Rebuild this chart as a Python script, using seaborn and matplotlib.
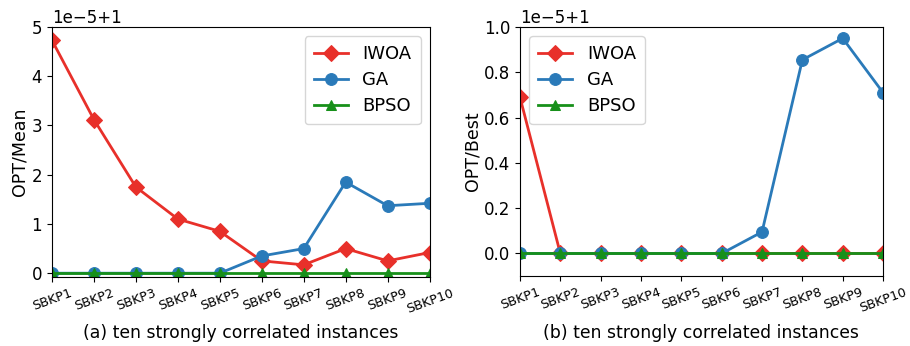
import numpy as np
import pandas as pd
import matplotlib
matplotlib.use("Agg")
import matplotlib.pyplot as plt
import seaborn as sns

instances = ["SBKP1", "SBKP2", "SBKP3", "SBKP4", "SBKP5",
             "SBKP6", "SBKP7", "SBKP8", "SBKP9", "SBKP10"]
algorithms = ["IWOA", "GA", "BPSO"]

# values in units of 1e-5 above 1
mean_iwoa = [4.73, 3.12, 1.75, 1.10, 0.85, 0.25, 0.17, 0.50, 0.25, 0.42]
mean_ga   = [0.0, 0.0, 0.0, 0.0, 0.0, 0.35, 0.50, 1.85, 1.37, 1.42]
mean_bpso = [0.0, 0.0, 0.0, 0.0, 0.0, 0.0, 0.0, 0.0, 0.0, 0.0]

best_iwoa = [0.69, 0.0, 0.0, 0.0, 0.0, 0.0, 0.0, 0.0, 0.0, 0.0]
best_ga   = [0.0, 0.0, 0.0, 0.0, 0.0, 0.0, 0.095, 0.855, 0.95, 0.71]
best_bpso = [0.0, 0.0, 0.0, 0.0, 0.0, 0.0, 0.0, 0.0, 0.0, 0.0]

colors = {"IWOA": "#e8302a", "GA": "#2a7ab9", "BPSO": "#17901a"}
markers = {"IWOA": "D", "GA": "o", "BPSO": "^"}
msizes = {"IWOA": 8, "GA": 8.5, "BPSO": 6.5}


def make_df(series):
    rows = []
    for alg, vals in zip(algorithms, series):
        for i, (inst, v) in enumerate(zip(instances, vals)):
            rows.append({"idx": i, "inst": inst, "alg": alg, "val": 1.0 + v * 1e-5})
    return pd.DataFrame(rows)


fig = plt.figure(figsize=(9.1, 3.46), dpi=100)
ax1 = fig.add_axes([0.0571, 0.199, 0.415, 0.723])
ax2 = fig.add_axes([0.5714, 0.202, 0.399, 0.720])

panels = [
    (ax1, make_df([mean_iwoa, mean_ga, mean_bpso]), "OPT/Mean",
     (1 - 0.08e-5, 1 + 5e-5), "upper right", "(a) ten strongly correlated instances", 0.265),
    (ax2, make_df([best_iwoa, best_ga, best_bpso]), "OPT/Best",
     (1 - 0.1e-5, 1 + 1e-5), "upper left", "(b) ten strongly correlated instances", 0.770),
]

for ax, df, ylabel, ylim, loc, caption, cx in panels:
    for alg in algorithms:
        sub = df[df["alg"] == alg]
        sns.lineplot(data=sub, x="idx", y="val", ax=ax, color=colors[alg],
                     marker=markers[alg], markersize=msizes[alg],
                     markeredgecolor=colors[alg], linewidth=2, label=alg,
                     clip_on=True)
    ax.set_xlim(0, 9)
    ax.set_ylim(*ylim)
    ax.set_xticks(range(len(instances)))
    ax.set_xticklabels(instances, rotation=20, fontsize=9.2)
    ax.tick_params(axis="y", labelsize=12)
    ax.set_xlabel("")
    ax.set_ylabel(ylabel, fontsize=12.5, labelpad=2)
    ax.yaxis.get_offset_text().set_fontsize(12)
    leg = ax.legend(loc=loc, fontsize=13, handlelength=1.9, borderpad=0.5,
                    labelspacing=0.45)
    fig.text(cx, 0.012, caption, ha="center", va="bottom", fontsize=12.4)

fig.savefig("out.png", dpi=100)
